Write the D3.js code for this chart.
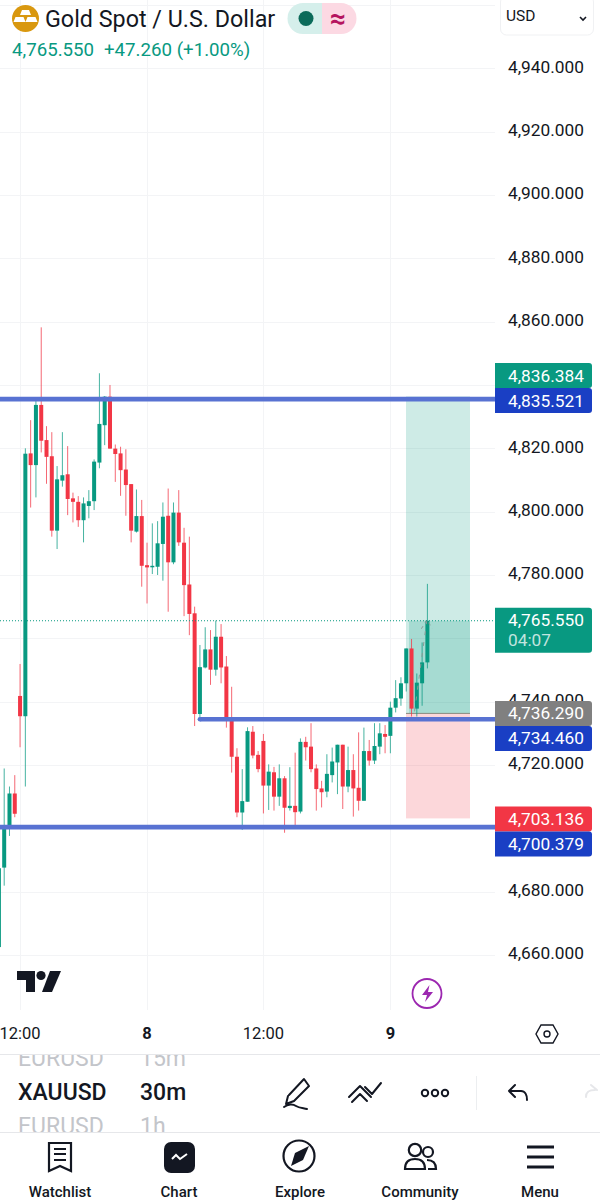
<!DOCTYPE html>
<html><head><meta charset="utf-8">
<script src="https://cdn.jsdelivr.net/npm/d3@7/dist/d3.min.js"></script>
<style>html,body{margin:0;padding:0;background:#fff;overflow:hidden}svg{display:block}text{font-family:Roboto,sans-serif}</style>
</head><body><svg id="c" width="600" height="1200"></svg>
<script>
const opens=[4662.5,4687.6,4700.7,4711,4741.8,4735.4,4818.4,4814.7,4833.7,4822.6,4817.5,4794,4809.8,4811.8,4804.2,4803.1,4797.3,4801.8,4803.3,4815.5,4827.3,4836.3,4819.9,4818.4,4813.3,4808.7,4793.7,4798.6,4783.1,4782.6,4782.6,4789.8,4798.7,4784,4799.7,4790.2,4777,4767.9,4736.1,4750.8,4756.5,4750.1,4760.5,4751.1,4734.2,4722.6,4705,4708.4,4730.5,4723.2,4727.6,4713.5,4717.7,4710,4715.8,4706.4,4707.1,4705.3,4727.3,4725.8,4718.9,4712.6,4711.6,4716.8,4720.8,4726.4,4713.2,4718.4,4712.8,4708.7,4724.4,4721.4,4725.8,4729.8,4729.2,4738.1,4741,4745.8,4756.8,4737.8,4745.8,4752.4];
const highs=[4687.4,4718.9,4713.2,4716.8,4751.9,4820,4828.9,4836,4858.2,4827,4825.1,4814.4,4825.1,4820.7,4806,4804.9,4804.5,4806.8,4816.5,4843.7,4836.5,4840,4821.2,4820.5,4819.7,4808.7,4807,4803.7,4790.2,4796.3,4797,4802.9,4807.3,4802.9,4806.8,4794.9,4792.1,4770,4757.9,4763.5,4762.6,4765.6,4764.5,4754.4,4744.7,4725.3,4718.7,4731.9,4732.3,4724.4,4729.8,4720.2,4719.4,4720.2,4716.5,4719.3,4723.9,4728.4,4728.9,4733.2,4720.2,4715,4723.4,4725.5,4726.4,4726.4,4725.8,4723.4,4730.3,4731.8,4727.9,4733.2,4733.2,4732.6,4740,4746.8,4747.7,4756.8,4759.8,4748.9,4758.7,4777.2];
const lows=[4662.1,4681.9,4697.6,4703.5,4725.6,4713.2,4801.3,4804.5,4818.7,4808.8,4792.1,4788.2,4807.9,4798.9,4796.6,4795.2,4790.3,4797.9,4800.5,4813.7,4821,4819.9,4809.4,4805,4798.7,4790.3,4793.4,4776.3,4771,4780.3,4780,4778.2,4768.4,4783.4,4789.2,4767,4761,4732.3,4734.7,4750.5,4745.3,4748.2,4745.8,4731.8,4717.6,4703.5,4699.5,4708.4,4722.1,4717.7,4704.7,4705.8,4705.6,4707.1,4698.6,4705.6,4700,4704.7,4721.4,4717.7,4705.6,4706.6,4709.8,4714.5,4710.8,4706.1,4711.4,4703.7,4705.6,4708.7,4719.8,4720.3,4723.4,4723.7,4723.7,4736.6,4738.7,4743.2,4735.3,4735.3,4738.7,4750.5];
const closes=[4687.4,4700.5,4711,4704.6,4735.4,4818.3,4814.7,4833.7,4822.4,4817.3,4794,4810.2,4811.5,4804,4803.1,4797.3,4802.6,4803.3,4815.8,4827.7,4836.3,4819.9,4818.2,4813.1,4808.4,4794,4798.6,4782.9,4782.4,4782.9,4790,4798.4,4784,4799.7,4790.3,4776.8,4767.7,4736.1,4750.9,4756.5,4750.1,4760.5,4750.8,4734.2,4722.6,4705,4708.6,4730.7,4723,4718.7,4713.5,4717.9,4710,4715.8,4706.5,4707.1,4705.1,4727.3,4725.6,4718.7,4712.4,4711.4,4717.2,4721.1,4726.4,4713.2,4718.4,4712.6,4708.7,4724.4,4721.4,4726,4730,4728.9,4738.1,4741.1,4745.8,4756.8,4737.8,4746,4752.4,4765.55];
const priceTicks=[4940,4920,4900,4880,4860,4840,4820,4800,4780,4760,4740,4720,4700,4680,4660];
const hiddenTickLabels=[4840,4760,4700];
const timeTickIdx=[4,28,50,74];
const timeTickLabels=["12:00","8","12:00","9"];
const levels=[4835.521,4734.46,4700.379];
const levelStartIdx=[null,38,null];
const target=4836.384, entry=4736.29, stop=4703.136, last=4765.55;
const navLabels=["Watchlist","Chart","Explore","Community","Menu"];

const GREEN="#089981",RED="#f23645",BLUE="#1a3fc4",INK="#131722";
const svg=d3.select("#c");
const y=d3.scaleLinear().domain([4660,4940]).range([955,68.3]);
const x=d3.scaleLinear().domain([0,81]).range([-1.1,427.4]);
const fmt=d3.format(",.3f");
const axisX=495;

// grid
const grid=svg.append("g").attr("stroke","#f3f4f6").attr("stroke-width",1);
grid.selectAll("line.h").data(priceTicks.concat([4960])).join("line").attr("x1",0).attr("x2",axisX)
  .attr("y1",d=>Math.round(y(d))+.5).attr("y2",d=>Math.round(y(d))+.5);
grid.selectAll("line.v").data(timeTickIdx).join("line").attr("y1",0).attr("y2",1010)
  .attr("x1",d=>Math.round(x(d))+.5).attr("x2",d=>Math.round(x(d))+.5);

// long position tool
const boxL=406,boxR=470;
const pos=svg.append("g");
pos.append("rect").attr("x",boxL).attr("width",boxR-boxL).attr("y",y(target)).attr("height",y(entry)-y(target)).attr("fill",GREEN).attr("fill-opacity",.2);
pos.append("rect").attr("x",boxL).attr("width",boxR-boxL).attr("y",y(entry)).attr("height",y(stop)-y(entry)).attr("fill",RED).attr("fill-opacity",.2);
pos.append("rect").attr("x",x(78)-2.5).attr("width",boxR-x(78)+2.5).attr("y",y(last)).attr("height",y(entry)-y(last)).attr("fill",GREEN).attr("fill-opacity",.2);
pos.append("line").attr("x1",boxL).attr("x2",boxR).attr("y1",y(entry)).attr("y2",y(entry)).attr("stroke","#8a8a7f").attr("stroke-width",1);

// candles
const data=opens.map((o,i)=>({i,o,h:highs[i],l:lows[i],c:closes[i]}));
const col=d=>d.c>=d.o?GREEN:RED;
const candles=svg.append("g");
candles.selectAll("line").data(data).join("line")
  .attr("x1",d=>x(d.i)).attr("x2",d=>x(d.i)).attr("y1",d=>y(d.h)).attr("y2",d=>y(d.l))
  .attr("stroke",col).attr("stroke-width",1).attr("stroke-opacity",.75);
candles.selectAll("rect").data(data).join("rect")
  .attr("x",d=>x(d.i)-2).attr("width",4)
  .attr("y",d=>Math.min(y(d.o),y(d.c))).attr("height",d=>Math.max(1.5,Math.abs(y(d.o)-y(d.c))))
  .attr("fill",col);

// position-tool dashed trace
const trace=svg.append("g").attr("fill","none").attr("stroke","#8c9a96").attr("stroke-width",1);
trace.append("line").attr("x1",x(78)+3).attr("y1",y(entry)-2).attr("x2",x(81)-.5).attr("y2",y(last)-1).attr("stroke-dasharray","4 7");
trace.append("path").attr("d",`M${x(81)-6},${y(last)+8}L${x(81)-.5},${y(last)-1}L${x(81)+5},${y(last)+8}`).attr("stroke-dasharray","3 4");

// last price dotted
svg.append("line").attr("x1",0).attr("x2",axisX).attr("y1",y(last)).attr("y2",y(last)).attr("stroke",GREEN).attr("stroke-width",1).attr("stroke-dasharray","1 2");

// horizontal levels
svg.append("g").selectAll("line").data(levels).join("line")
  .attr("x1",(d,i)=>levelStartIdx[i]==null?0:x(levelStartIdx[i])).attr("x2",axisX)
  .attr("y1",d=>y(d)).attr("y2",d=>y(d))
  .attr("stroke","#5872d2").attr("stroke-width",4.6);
svg.append("circle").attr("cx",x(levelStartIdx[1])).attr("cy",y(levels[1])).attr("r",2.3).attr("fill","#5872d2");

// price axis (labels fully covered by tags are left out)
svg.append("g").selectAll("text").data(priceTicks.filter(d=>!hiddenTickLabels.includes(d))).join("text")
  .attr("x",508).attr("y",d=>y(d)-1.6).attr("dy","0.35em").attr("font-size",17.3).attr("fill",INK)
  .text(fmt);

// price tags
function roundR(X,Y,w,h){const r=3;return `M${X},${Y}H${X+w-r}Q${X+w},${Y} ${X+w},${Y+r}V${Y+h-r}Q${X+w},${Y+h} ${X+w-r},${Y+h}H${X}Z`;}
function tag(cy,h,color,txt,sub){
  svg.append("path").attr("fill",color).attr("d",roundR(495,cy-h/2,97,h));
  svg.append("text").attr("x",508).attr("y",sub?cy-10.5:cy).attr("dy","0.35em").attr("font-size",17.3).attr("fill","#fff").text(txt);
  if(sub)svg.append("text").attr("x",508).attr("y",cy+9.5).attr("dy","0.35em").attr("font-size",17.3).attr("fill","#fff").attr("fill-opacity",.75).text(sub);
}
const th=25;
tag(y(levels[0])+1.3-th,th,GREEN,fmt(target));
tag(y(levels[0])+1.3,th,BLUE,fmt(levels[0]));
tag(y(last)+9.4,45,GREEN,fmt(last),"04:07");
tag(y(entry),th,"#808080",fmt(entry));
tag(y(entry)+th,th,BLUE,fmt(levels[1]));
tag(y(stop)+.5,th,RED,fmt(stop));
tag(y(stop)+.5+th,th,BLUE,fmt(levels[2]));

// time axis
svg.append("g").selectAll("text").data(timeTickIdx).join("text")
  .attr("x",d=>x(d)).attr("y",1033).attr("dy","0.35em").attr("text-anchor","middle").attr("font-size",16.5)
  .attr("font-weight",(d,i)=>/:/.test(timeTickLabels[i])?400:700).attr("fill",INK)
  .text((d,i)=>timeTickLabels[i]);

// header
const hd=svg.append("g");
hd.append("circle").attr("cx",25.5).attr("cy",18.5).attr("r",13.5).attr("fill","#d9980f");
hd.append("path").attr("fill","#fff").attr("d","M22,10h7l2,5h-11zM15.5,17h8l2,5h-12zM27.5,17h8l2,5h-12z");
hd.append("text").attr("x",45).attr("y",18.5).attr("dy","0.35em").attr("font-size",23.3).attr("fill",INK).text("Gold Spot / U.S. Dollar");
hd.append("path").attr("fill","#d5efeb").attr("d","M322,3H303a15.5,15.5 0 0 0 0,31H322Z");
hd.append("path").attr("fill","#fcd9e3").attr("d","M322,3H341a15.5,15.5 0 0 1 0,31H322Z");
hd.append("circle").attr("cx",306).attr("cy",18.5).attr("r",7.5).attr("fill","#0b6b5a");
hd.append("text").attr("x",338).attr("y",18.5).attr("dy","0.35em").attr("text-anchor","middle").attr("font-size",28).attr("font-weight",700).attr("fill","#b5145f").text("≈");
hd.append("text").attr("x",12).attr("y",49).attr("dy","0.35em").attr("font-size",18.7).attr("fill",GREEN).text(fmt(last));
hd.append("text").attr("x",104).attr("y",49).attr("dy","0.35em").attr("font-size",18.7).attr("fill",GREEN).text("+47.260 (+1.00%)");
hd.append("rect").attr("x",500.5).attr("y",-4).attr("width",93).attr("height",39).attr("rx",6).attr("fill","#fff").attr("stroke","#f0f1f3");
hd.append("text").attr("x",506).attr("y",16).attr("dy","0.35em").attr("font-size",15.5).attr("fill",INK).text("USD");
hd.append("path").attr("d","M580,17l3,3l3,-3").attr("fill","none").attr("stroke",INK).attr("stroke-width",1.6);

// logo and lightning
const lg=svg.append("g").attr("fill","#131722");
lg.append("path").attr("d","M17,971H35V992H26V980H17Z");
lg.append("circle").attr("cx",41).attr("cy",975.5).attr("r",4.6);
lg.append("path").attr("d","M50,971H61L52,992H42Z");
svg.append("ellipse").attr("cx",427).attr("cy",993.5).attr("rx",14.5).attr("ry",14.5).attr("fill","#fff").attr("stroke","#9c27b0").attr("stroke-width",1.8);
svg.append("path").attr("d","M429.5,985L422,995H427L425,1002L433,992H428Z").attr("fill","#9c27b0");
svg.append("path").attr("d","M541,1025H553L558,1034L553,1043H541L536,1034Z").attr("fill","none").attr("stroke",INK).attr("stroke-width",1.4);
svg.append("circle").attr("cx",547).attr("cy",1034).attr("r",3).attr("fill","none").attr("stroke",INK).attr("stroke-width",1.4);

// bottom panel
svg.append("line").attr("x1",0).attr("x2",600).attr("y1",1054.5).attr("y2",1054.5).attr("stroke","#e6e7ea");
svg.append("defs").append("clipPath").attr("id","tb").append("rect").attr("x",0).attr("y",1055).attr("width",600).attr("height",77);
const tb=svg.append("g").attr("clip-path","url(#tb)");
const rows=[["EURUSD","15m",1058,"#c3c5ca"],["XAUUSD","30m",1092,INK],["EURUSD","1h",1126,"#c3c5ca"]];
rows.forEach(r=>{
  tb.append("text").attr("x",18).attr("y",r[2]).attr("dy","0.35em").attr("font-size",23).attr("font-weight",r[3]===INK?500:400).attr("fill",r[3]).text(r[0]);
  tb.append("text").attr("x",140).attr("y",r[2]).attr("dy","0.35em").attr("font-size",23).attr("font-weight",r[3]===INK?500:400).attr("fill",r[3]).text(r[1]);
});
svg.append("line").attr("x1",0).attr("x2",600).attr("y1",1132.5).attr("y2",1132.5).attr("stroke","#e6e7ea");
svg.append("line").attr("x1",476.5).attr("x2",476.5).attr("y1",1076).attr("y2",1110).attr("stroke","#eceef0");
const ic=svg.append("g").attr("fill","none").attr("stroke","#131722").attr("stroke-width",2).attr("stroke-linecap","round").attr("stroke-linejoin","round");
ic.append("path").attr("d","M288,1096L286,1104L294,1101L309,1086L304,1079L289,1095M284,1107c4,-3 9,-3 12,-1c3,2 7,2 11,3");
ic.append("path").attr("d","M349,1097L360,1086L371,1097M352,1102L360,1094L367,1101M365,1087L372,1094L381,1083");
ic.append("circle").attr("cx",425).attr("cy",1093).attr("r",3.2);
ic.append("circle").attr("cx",435).attr("cy",1093).attr("r",3.2);
ic.append("circle").attr("cx",445).attr("cy",1093).attr("r",3.2);
ic.append("path").attr("d","M515,1085L509,1091L515,1097M509,1091H521C525,1091 527,1095 527,1100");
ic.append("path").attr("d","M586,1097C586,1091 590,1090 595,1090M591,1085L597,1090").attr("stroke","#e6e7ea");
// nav icons
const nav=svg.append("g").attr("fill","none").attr("stroke","#131722").attr("stroke-width",2.2);
nav.append("path").attr("d","M49,1143H71V1171L60,1166L49,1171Z");
nav.append("path").attr("d","M54,1149H66M54,1154H66M54,1160H66");
svg.append("rect").attr("x",164).attr("y",1142).attr("width",31).attr("height",31).attr("rx",7).attr("fill","#131722");
svg.append("path").attr("d","M172,1159l4,-4l4,4l7,-5").attr("fill","none").attr("stroke","#fff").attr("stroke-width",2);
nav.append("circle").attr("cx",299).attr("cy",1156).attr("r",15.5);
svg.append("path").attr("d","M309,1146L303,1160L291,1166L295,1153Z").attr("fill","#131722");
nav.append("circle").attr("cx",415).attr("cy",1150).attr("r",6.2);
nav.append("circle").attr("cx",428).attr("cy",1152).attr("r",5);
nav.append("path").attr("d","M405,1169c0,-8 5,-10 10,-10c6,0 10,3 10,10ZM427,1160c5,0 9,2 9,9h-8");
nav.append("path").attr("d","M527,1147H554M527,1157H554M527,1167H554").attr("stroke-width",3);
const navX=[60,179,300,420,540];
svg.append("g").selectAll("text").data(navLabels).join("text").attr("x",(d,i)=>navX[i]).attr("y",1191.5).attr("dy","0.35em")
  .attr("text-anchor","middle").attr("font-size",15).attr("font-weight",500).attr("fill",INK).text(d=>d);
</script></body></html>
